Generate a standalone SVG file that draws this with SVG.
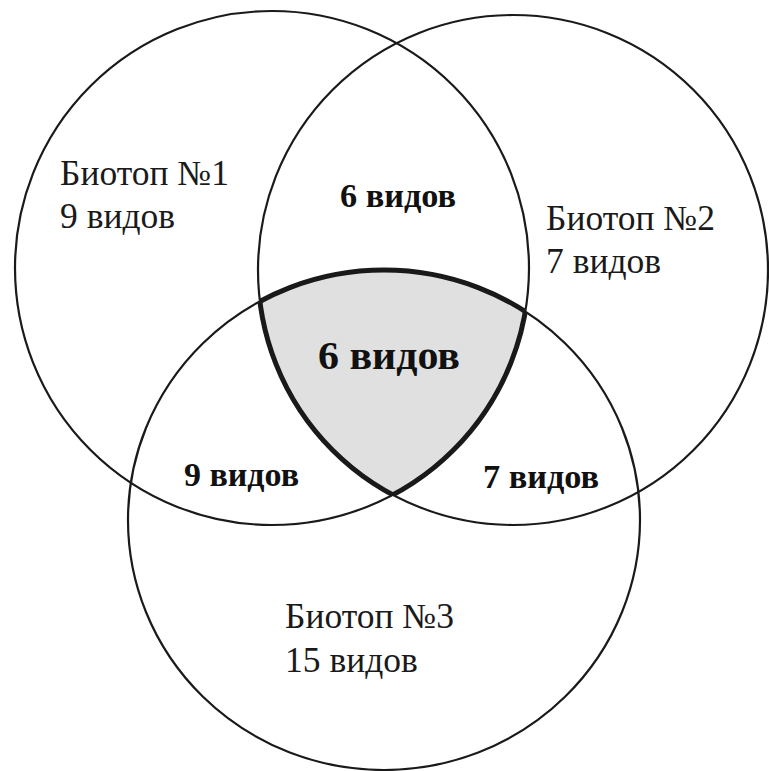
<svg xmlns="http://www.w3.org/2000/svg" width="769" height="771" viewBox="0 0 769 771">
<style>
.c{fill:none;stroke:#1a1a1a;stroke-width:2.2}
.b{fill:none;stroke:#1a1a1a;stroke-width:5}
.t{font-family:"Liberation Serif","Times New Roman",serif;font-size:35.5px;fill:#1a1a1a}
.tb{font-family:"Liberation Serif","Times New Roman",serif;font-size:33px;font-weight:bold;fill:#111}
</style>
<defs>
<clipPath id="k1"><circle cx="272" cy="268" r="257"/></clipPath>
<clipPath id="k2"><circle cx="513" cy="270" r="255"/></clipPath>
<clipPath id="k3"><ellipse cx="384" cy="520" rx="256" ry="250"/></clipPath>
</defs>
<rect width="769" height="771" fill="#fff"/>
<g id="core">
<g clip-path="url(#k1)"><g clip-path="url(#k2)">
<ellipse cx="384" cy="520" rx="256" ry="250" fill="#e0e0e0"/>
<ellipse class="b" cx="384" cy="520" rx="256" ry="250"/>
</g></g>
<g clip-path="url(#k2)"><g clip-path="url(#k3)"><circle class="b" cx="272" cy="268" r="257"/></g></g>
<g clip-path="url(#k1)"><g clip-path="url(#k3)"><circle class="b" cx="513" cy="270" r="255"/></g></g>
<text class="tb" x="318" y="369" style="font-size:39px" textLength="142" lengthAdjust="spacingAndGlyphs">6 видов</text>
</g>
<g id="biotop1">
<circle class="c" cx="272" cy="268" r="257"/>
<text class="t" x="60" y="185">Биотоп №1</text>
<text class="t" x="60" y="228">9 видов</text>
</g>
<g id="biotop2">
<circle class="c" cx="513" cy="270" r="255"/>
<text class="t" x="546" y="230">Биотоп №2</text>
<text class="t" x="546" y="273">7 видов</text>
</g>
<g id="biotop3">
<ellipse class="c" cx="384" cy="520" rx="256" ry="250"/>
<text class="t" x="285" y="628">Биотоп №3</text>
<text class="t" x="285" y="672">15 видов</text>
</g>
<g id="overlaps">
<text class="tb" x="340" y="207" textLength="116" lengthAdjust="spacingAndGlyphs">6 видов</text>
<text class="tb" x="184" y="486" textLength="115" lengthAdjust="spacingAndGlyphs">9 видов</text>
<text class="tb" x="483" y="488" textLength="116" lengthAdjust="spacingAndGlyphs">7 видов</text>
</g>
<g id="connectors"/>
</svg>
